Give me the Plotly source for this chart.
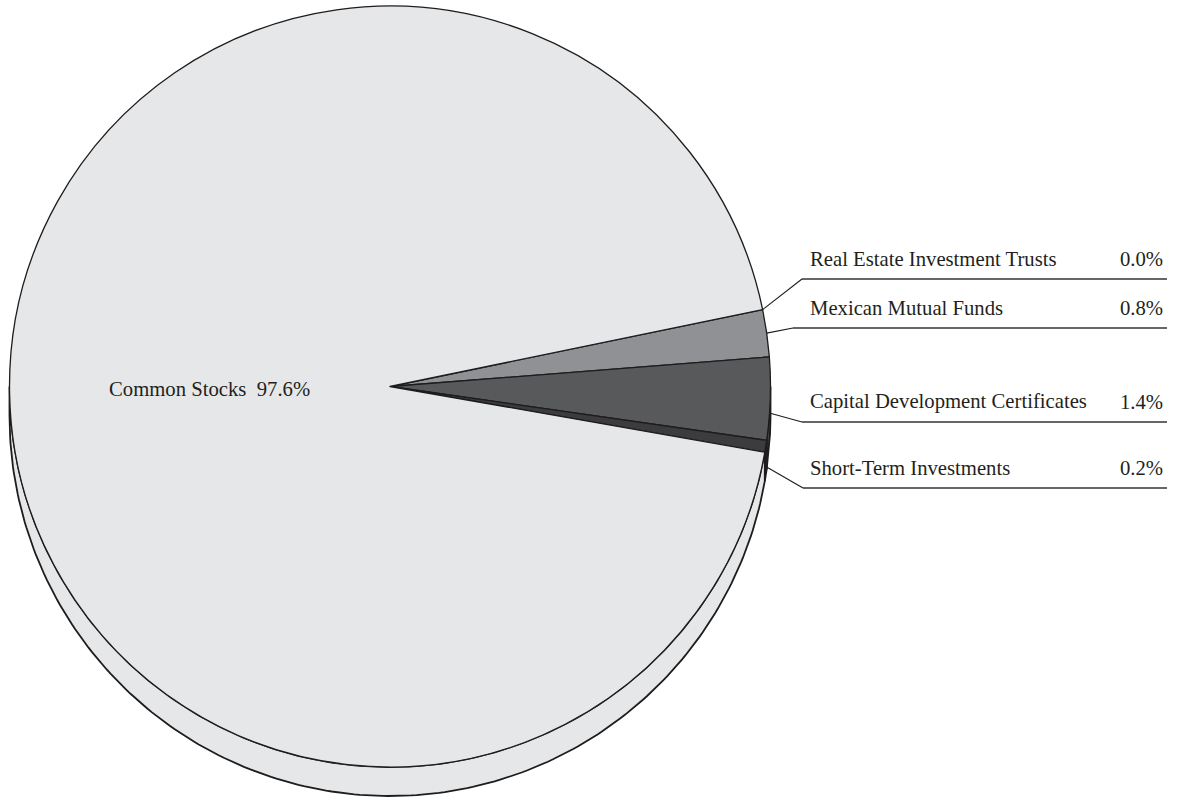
import numpy as np
import plotly.graph_objects as go

# ---------------- data ----------------
categories = ["Real Estate Investment Trusts", "Mexican Mutual Funds",
              "Capital Development Certificates", "Short-Term Investments",
              "Common Stocks"]
pct_values = [0.0, 0.8, 1.4, 0.2, 97.6]          # printed percentages
drawn_share = [0.0, 2.0, 3.5, 0.5, 94.0]         # slice sizes as drawn in the picture
slice_colors = ["#c8c9cb", "#8f9194", "#58595b", "#3c3c3e", "#e6e7e8"]
side_colors = ["#b8b9bb", "#7d7f82", "#48494b", "#2e2e30", "#e6e7e8"]

# ---------------- geometry / style ----------------
W, H = 1180, 798
cx, cy, r = 390.0, 386.5, 380.5
depth = 29.0
start_deg = 11.66            # math angle where the first slice begins (going clockwise)
edge_col = "#1e1c1d"
text_col = "#231f20"
font_family = "Liberation Serif"
font_size = 20.7

fig = go.Figure()

# cumulative angles
shares = np.array(drawn_share, dtype=float)
cum = np.concatenate([[0.0], np.cumsum(shares)])
theta_a = start_deg - 3.6 * cum[:-1]     # slice start (higher angle)
theta_b = start_deg - 3.6 * cum[1:]      # slice end (lower angle)


def pt(theta_deg, dy=0.0):
    t = np.radians(theta_deg)
    return cx + r * np.cos(t), cy - r * np.sin(t) + dy


# side walls (visible lower half only)
for i in range(len(categories)):
    if shares[i] <= 0:
        continue
    lo, hi = theta_b[i], theta_a[i]
    for k in (-1, 0, 1):
        a0, a1 = max(lo, -180 + 360 * k), min(hi, 0 + 360 * k)
        if a1 <= a0:
            continue
        th = np.linspace(a1, a0, 200)
        xt, yt = pt(th)
        xb, yb = pt(th[::-1], depth)
        xs = np.concatenate([xt, xb, xt[:1]])
        ys = np.concatenate([yt, yb, yt[:1]])
        fig.add_trace(go.Scatter(x=xs, y=ys, mode="lines", fill="toself",
                                 fillcolor=side_colors[i],
                                 line=dict(color=edge_col, width=1.8),
                                 hoverinfo="skip", showlegend=False))

# top face via pie trace
pie_idx = [i for i in range(len(categories)) if shares[i] > 0]
fig.add_trace(go.Pie(
    labels=[categories[i] for i in pie_idx],
    values=[drawn_share[i] for i in pie_idx],
    marker=dict(colors=[slice_colors[i] for i in pie_idx],
                line=dict(color=edge_col, width=1.3)),
    sort=False, direction="clockwise", rotation=90 - start_deg,
    textinfo="none", hoverinfo="skip", showlegend=False,
    domain=dict(x=[(cx - r) / W, (cx + r) / W],
                y=[1 - (cy + r) / H, 1 - (cy - r) / H]),
))

# leader lines and labels for the small slices
anchor_k = [0.0, 0.0, 0.5, 0.7]
elbow_x = [802, 793, 802, 803]
line_y = [279, 328, 422, 488]
label_x0, line_x1, pct_x = 808, 1167, 1165

for j in range(4):
    if shares[j] > 0:
        tm = 0.5 * (theta_a[j] + theta_b[j])
    else:
        tm = theta_a[j]
    ax_, ay_ = pt(tm, anchor_k[j] * depth)
    fig.add_shape(type="line", xref="x", yref="y", x0=ax_, y0=ay_,
                  x1=elbow_x[j], y1=line_y[j],
                  line=dict(color=edge_col, width=1.1))
    fig.add_shape(type="line", xref="x", yref="y", x0=elbow_x[j], y0=line_y[j],
                  x1=line_x1, y1=line_y[j],
                  line=dict(color="#333333", width=1.6))
    fig.add_annotation(x=label_x0, y=line_y[j] - 7, xref="x", yref="y",
                       text=categories[j], showarrow=False,
                       xanchor="left", yanchor="bottom",
                       font=dict(family=font_family, size=font_size, color=text_col))
    fig.add_annotation(x=pct_x, y=line_y[j] - 7, xref="x", yref="y",
                       text=f"{pct_values[j]:.1f}%", showarrow=False,
                       xanchor="right", yanchor="bottom",
                       font=dict(family=font_family, size=font_size, color=text_col))

# big slice label
fig.add_annotation(x=107, y=389, xref="x", yref="y",
                   text=f"{categories[4]}\u00a0 {pct_values[4]:.1f}%", showarrow=False,
                   xanchor="left", yanchor="middle",
                   font=dict(family=font_family, size=font_size, color=text_col))

fig.update_layout(
    width=W, height=H,
    margin=dict(l=0, r=0, t=0, b=0),
    paper_bgcolor="white", plot_bgcolor="white",
    xaxis=dict(range=[0, W], visible=False, fixedrange=True, domain=[0, 1]),
    yaxis=dict(range=[H, 0], visible=False, fixedrange=True, domain=[0, 1]),
    showlegend=False,
)

fig.write_html("out.html", config={"displayModeBar": False},
               post_script="document.body.style.margin='0';")
